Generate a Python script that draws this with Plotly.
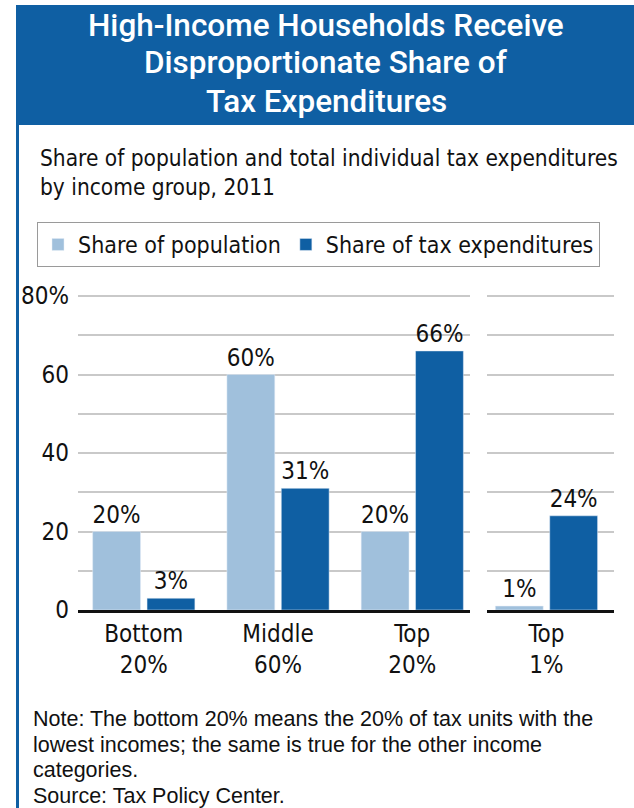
import plotly.graph_objects as go
from plotly.subplots import make_subplots

# data
groups = ["Bottom<br>20%", "Middle<br>60%", "Top<br>20%"]
top_group = ["Top<br>1%"]
population_share = [20, 60, 20]
tax_exp_share = [3, 31, 66]
population_share_top1 = [1]
tax_exp_share_top1 = [24]
y_tick_vals = [0, 10, 20, 30, 40, 50, 60, 70, 80]
y_tick_text = ["0", "", "20", "", "40", "", "60", "", "80%"]

title_lines = [
    "High-Income Households Receive",
    "Disproportionate Share of",
    "Tax Expenditures",
]
subtitle_text = "Share of population and total individual tax expenditures<br>by income group, 2011"
note_lines = [
    "Note: The bottom 20% means the 20% of tax units with the",
    "lowest incomes; the same is true for the other income",
    "categories.",
    "Source: Tax Policy Center.",
]

LIGHT = "#a0c0dc"
DARK = "#0f5fa3"
COND = "DejaVu Sans Condensed, Liberation Sans Narrow, sans-serif"
W, H = 634, 808


def py(px):
    # pixel row from top -> paper fraction
    return 1 - px / H


fig = make_subplots(rows=1, cols=2)

bar_style = dict(
    texttemplate="%{y}%",
    textposition="outside",
    constraintext="none",
    cliponaxis=False,
    textfont=dict(family=COND, size=24, color="#111"),
    hoverinfo="skip",
)

fig.add_trace(go.Bar(name="Share of population", x=groups, y=population_share,
                     marker_color=LIGHT, **bar_style), row=1, col=1)
fig.add_trace(go.Bar(name="Share of tax expenditures", x=groups, y=tax_exp_share,
                     marker_color=DARK, **bar_style), row=1, col=1)
fig.add_trace(go.Bar(name="Share of population", x=top_group, y=population_share_top1,
                     marker_color=LIGHT, showlegend=False, **bar_style), row=1, col=2)
fig.add_trace(go.Bar(name="Share of tax expenditures", x=top_group, y=tax_exp_share_top1,
                     marker_color=DARK, showlegend=False, **bar_style), row=1, col=2)

# 0 at 610px, 80 at 296px
y_top = 80.4
px_per_unit = (610 - 296) / 80
y_dom = [py(610), py(610 - y_top * px_per_unit)]
axis_font = dict(family=COND, size=24, color="#111")

fig.update_xaxes(showline=True, linecolor="#111", linewidth=2.5, ticks="",
                 showgrid=False, tickfont=axis_font, fixedrange=True, automargin=False)
fig.update_layout(
    xaxis=dict(domain=[78 / W, 470 / W], range=[-0.49, 2.43]),
    xaxis2=dict(domain=[487 / W, 614 / W], range=[-0.443, 0.503]),
)
fig.update_yaxes(domain=y_dom, range=[0, y_top], tickvals=y_tick_vals,
                 showgrid=True, gridcolor="#c9c9c9", gridwidth=1.5,
                 zeroline=False, ticks="", fixedrange=True, automargin=False)
fig.update_yaxes(ticktext=y_tick_text, tickfont=axis_font, ticklabelstandoff=8,
                 row=1, col=1)
fig.update_yaxes(showticklabels=False, row=1, col=2)

annotations = []
for i, line in enumerate(title_lines):
    annotations.append(dict(
        text=line, xref="paper", yref="paper", x=326 / W, y=py(25 + i * 38),
        xanchor="center", yanchor="middle", showarrow=False,
        font=dict(family="Roboto, Liberation Sans, sans-serif", size=31.5,
                  weight=500, color="white")))
annotations.append(dict(
    text=subtitle_text, xref="paper", yref="paper", x=38 / W, y=py(143),
    xanchor="left", yanchor="top", align="left", showarrow=False,
    font=dict(family=COND, size=22.5, color="#111")))
for i, line in enumerate(note_lines):
    annotations.append(dict(
        text=line, xref="paper", yref="paper", x=31 / W, y=py(719 + i * 25.7),
        xanchor="left", yanchor="middle", align="left", showarrow=False,
        font=dict(family="Liberation Sans, Arial, sans-serif", size=21.5, color="#111")))

fig.update_layout(
    width=W,
    height=H,
    margin=dict(l=0, r=0, t=0, b=0, autoexpand=False),
    barmode="group",
    bargap=0.19,
    bargroupgap=0.12,
    paper_bgcolor="white",
    plot_bgcolor="white",
    font=dict(family=COND, color="#111"),
    legend=dict(
        orientation="h", x=37 / W, xanchor="left", y=py(222), yanchor="top",
        bgcolor="white", bordercolor="#9a9a9a", borderwidth=1,
        font=dict(family=COND, size=23, color="#111"),
        itemclick=False, itemdoubleclick=False,
    ),
    shapes=[
        # title banner
        dict(type="rect", xref="paper", yref="paper", x0=16 / W, x1=1,
             y0=py(125), y1=py(5), fillcolor=DARK, line_width=0, layer="below"),
        # left border
        dict(type="line", xref="paper", yref="paper", x0=17.5 / W, x1=17.5 / W,
             y0=0, y1=py(125), line=dict(color=DARK, width=3)),
        # legend shadow
        dict(type="rect", xref="paper", yref="paper", x0=40 / W, x1=600 / W,
             y0=py(265), y1=py(226), fillcolor="#cfcfcf", line_width=0,
             layer="below"),
    ],
    annotations=annotations,
)

fig.write_html("out.html", config={"displayModeBar": False},
               post_script="document.body.style.margin='0';document.body.style.overflow='hidden';")
